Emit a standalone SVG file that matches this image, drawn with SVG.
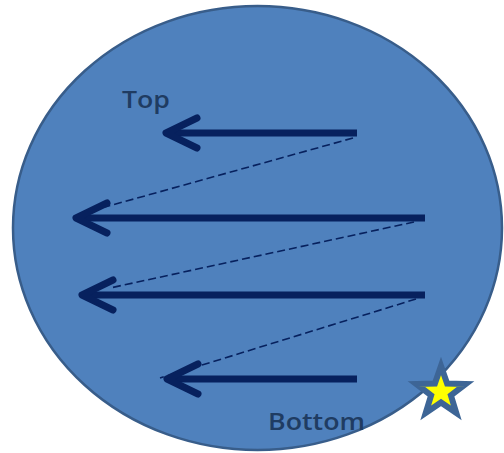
<svg xmlns="http://www.w3.org/2000/svg" width="504" height="453" viewBox="0 0 504 453">
<style>
.arrow{stroke:#07215e;stroke-width:7;fill:none;stroke-linecap:butt}
.dash{stroke:#07215e;stroke-width:1.6;fill:none;stroke-dasharray:8 4}
.lbl{font-family:"Open Sans","Liberation Sans",sans-serif;font-weight:600;font-size:24px;fill:#1f3c62}
</style>
<defs>
<marker id="chev" markerUnits="userSpaceOnUse" markerWidth="50" markerHeight="50" refX="0" refY="0" orient="auto" overflow="visible" viewBox="-10 -25 50 50">
<path d="M31,-15 L0,0 L31,15" fill="none" stroke="#07215e" stroke-width="7" stroke-linecap="round" stroke-linejoin="round"/>
</marker>
</defs>
<rect width="504" height="453" fill="#ffffff"/>
<g id="circle">
<ellipse cx="257.5" cy="228" rx="244.5" ry="222" fill="#4f81bd" stroke="#385d8a" stroke-width="2.5"/>
</g>
<g id="connectors">
<line class="dash" x1="353" y1="138" x2="105" y2="207"/>
<line class="dash" x1="414" y1="222" x2="110" y2="288"/>
<line class="dash" x1="416" y1="299" x2="160" y2="378"/>
<line class="arrow" x1="166" y1="133" x2="357" y2="133" marker-start="url(#chev)"/>
<line class="arrow" x1="76" y1="218" x2="425" y2="218" marker-start="url(#chev)"/>
<line class="arrow" x1="82" y1="295" x2="425" y2="295" marker-start="url(#chev)"/>
<line class="arrow" x1="167" y1="379" x2="357" y2="379" marker-start="url(#chev)"/>
</g>
<g id="top-label">
<text class="lbl" x="122" y="108" textLength="48" lengthAdjust="spacingAndGlyphs">Top</text>
</g>
<g id="bottom-label">
<text class="lbl" x="268" y="430" textLength="97" lengthAdjust="spacingAndGlyphs">Bottom</text>
</g>
<g id="star">
<polygon points="441,366 447.1,383.6 465.7,384 450.9,395.3 456.3,413 441,402.5 425.7,413 431.1,395.3 416.3,384 434.9,383.6" fill="#ffff00" stroke="#3d6596" stroke-width="6" stroke-linejoin="miter" stroke-miterlimit="10"/>
</g>
</svg>
